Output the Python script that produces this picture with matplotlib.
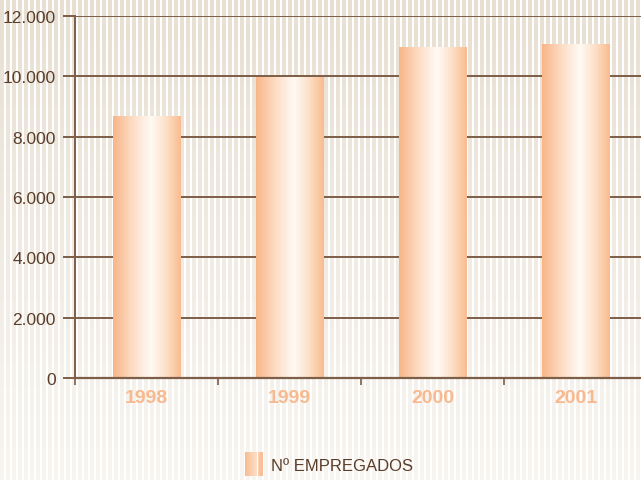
import numpy as np
import matplotlib.pyplot as plt
from matplotlib.colors import LinearSegmentedColormap

# data
anos = ['1998', '1999', '2000', '2001']
empregados = [8700, 9980, 10970, 11070]
yticks = [0, 2000, 4000, 6000, 8000, 10000, 12000]
ylabels = ['0', '2.000', '4.000', '6.000', '8.000', '10.000', '12.000']
legenda = 'Nº EMPREGADOS'

W, H = 641, 481
fig = plt.figure(figsize=(W / 100, H / 100), dpi=100)

# background: vertical stripes, beige fading out towards the bottom
bg = fig.add_axes([0, 0, 1, 1])
xx = np.arange(W)
stripe = ((xx % 6) < 3.5).astype(float)
fade = np.linspace(1.0, 0.3, H)[:, None]
top = np.array([0xe8, 0xdf, 0xd2]) / 255.0
white = np.array([1.0, 1.0, 1.0])
amt = (stripe[None, :] * fade)[:, :, None]
img = white * (1 - amt) + top * amt
bg.imshow(img, aspect='auto', extent=[0, 1, 0, 1], interpolation='nearest')
bg.set_axis_off()

brown = '#7d5e48'
txt_brown = '#5a3d28'
orange_txt = '#f9b98e'

ax = fig.add_axes([75 / W, 102 / H, 1 - 75 / W, (379 - 17) / H])
ax.patch.set_alpha(0)
x = np.arange(len(anos))
bars = ax.bar(x, empregados, width=0.475, color='none', zorder=3)

cmap = LinearSegmentedColormap.from_list(
    'barra', ['#f8b689', '#fcdcc3', '#fffaf5', '#fde0c8', '#f9bc90'],
    N=256)
grad = np.linspace(0, 1, 256)[None, :]
grad = np.interp(grad, [0, 0.56, 1], [0, 0.5, 1])
for b in bars:
    x0, y0 = b.get_x(), b.get_y()
    im = ax.imshow(grad, cmap=cmap, aspect='auto', vmin=0, vmax=1,
                   extent=[x0, x0 + b.get_width(), y0, y0 + b.get_height()],
                   zorder=3)
    im.set_clip_path(b)

ax.set_xlim(-0.5, 3.454)
ax.set_ylim(0, 12000)
ax.set_yticks(yticks)
ax.set_yticklabels(ylabels, fontfamily='Liberation Sans', fontsize=12.5,
                   color=txt_brown)
ax.yaxis.grid(True, color=brown, linewidth=1.4, zorder=1)
ax.tick_params(axis='y', length=9, width=1.4, color=brown, pad=5)

ax.set_xticks(x)
ax.set_xticklabels(anos, fontfamily='Liberation Sans', fontsize=14,
                   fontweight='bold', color=orange_txt)
ax.set_xticks(x - 0.5, minor=True)
ax.tick_params(axis='x', which='major', length=0, pad=8)
ax.tick_params(axis='x', which='minor', length=5, width=1.2, color=brown)

for s in ['top', 'right']:
    ax.spines[s].set_visible(False)
ax.spines['left'].set_color(brown)
ax.spines['left'].set_linewidth(1.4)
ax.spines['bottom'].set_color(brown)
ax.spines['bottom'].set_linewidth(1.6)
ax.spines['bottom'].set_zorder(4)

# legend
lg = fig.add_axes([245 / W, (481 - 477) / H, 18 / W, 24 / H])
lgrad = np.linspace(0, 1, 18)
lcol = np.interp(lgrad, [0, 0.65, 0.7, 0.78, 1], [0, 0.45, 1, 0.1, 0.05])
lg.imshow(lcol[None, :], cmap=LinearSegmentedColormap.from_list(
    'lg', ['#f9bc90', '#fde3cf', '#ffffff']), aspect='auto', vmin=0, vmax=1)
lg.set_axis_off()
fig.text(271 / W, 1 - 467 / H, legenda, fontfamily='Liberation Sans',
         fontsize=12, color=txt_brown, va='center', ha='left')

fig.savefig('out.png', dpi=100)
